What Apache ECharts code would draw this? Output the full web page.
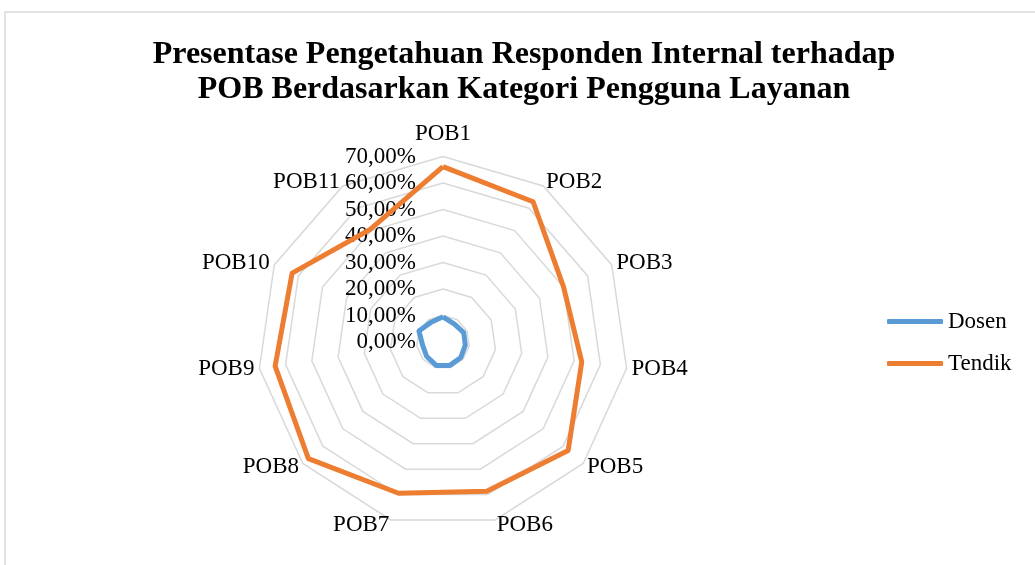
<!DOCTYPE html>
<html>
<head>
<meta charset="utf-8">
<script src="https://cdn.jsdelivr.net/npm/echarts@6/dist/echarts.min.js"></script>
<style>html,body{margin:0;padding:0;background:#fff;}#c{width:1035px;height:565px;}</style>
</head>
<body>
<div id="c"></div>
<script>
const categories = ['POB1','POB2','POB3','POB4','POB5','POB6','POB7','POB8','POB9','POB10','POB11'];
const dosen  = [9.5, 8.0, 8.6, 8.5, 8.9, 9.2, 9.2, 8.2, 7.8, 10.0, 8.7];
const tendik = [66.2, 62.9, 50.0, 52.9, 62.5, 58.7, 59.5, 67.2, 64.0, 62.6, 50.6];
const axisMin = 0, axisMax = 70, axisStep = 10;

// ECharts places radar indicators counter-clockwise; reorder to run clockwise
const order = [0].concat(categories.map((_, i) => i).slice(1).reverse());
const reorder = arr => order.map(i => arr[i]);

const font = '"Liberation Serif", "Times New Roman", serif';
const chart = echarts.init(document.getElementById('c'));
chart.setOption({
  animation: false,
  backgroundColor: '#fff',
  graphic: [{
    type: 'rect', shape: { x: 5, y: 12, width: 1200, height: 800 },
    style: { fill: 'none', stroke: '#d9d9d9', lineWidth: 1.5 }, silent: true
  }],
  title: {
    text: 'Presentase Pengetahuan Responden Internal terhadap\nPOB Berdasarkan Kategori Pengguna Layanan',
    left: 524, top: 37, textAlign: 'center', padding: 0,
    textStyle: { fontFamily: font, fontWeight: 'bold', fontSize: 32, lineHeight: 35, color: '#000' }
  },
  legend: {
    orient: 'vertical', left: 887, top: 310, padding: 0, itemWidth: 56, itemHeight: 5, itemGap: 19,
    icon: 'roundRect',
    textStyle: { fontFamily: font, fontSize: 23, color: '#000' },
    data: ['Dosen', 'Tendik']
  },
  radar: {
    center: [443, 342], radius: 185.5, startAngle: 90, shape: 'polygon',
    splitNumber: (axisMax - axisMin) / axisStep,
    indicator: order.map((i, k) => (k === 0
      ? { name: categories[i], min: axisMin, max: axisMax }
      : { name: categories[i], min: axisMin, max: axisMax, axisLabel: { show: false } })),
    axisName: {
      color: '#000', fontFamily: font, fontSize: 23,
      formatter: name => name === categories[0] ? '{top|' + name + '}' : name,
      rich: { top: { color: '#000', fontFamily: font, fontSize: 23, padding: [0, 0, -10, 0] } }
    },
    nameGap: 5,
    axisLine: { show: false },
    axisTick: { show: false },
    axisLabel: {
      show: true, margin: 27, color: '#000', fontFamily: font, fontSize: 23,
      formatter: v => v.toFixed(2).replace('.', ',') + '%'
    },
    splitLine: { lineStyle: { color: '#d9d9d9', width: 1.5 } },
    splitArea: { show: false }
  },
  series: [{
    type: 'radar', symbol: 'none',
    data: [
      { name: 'Dosen', value: reorder(dosen), lineStyle: { color: '#5B9BD5', width: 5, join: 'round' }, itemStyle: { color: '#5B9BD5' } },
      { name: 'Tendik', value: reorder(tendik), lineStyle: { color: '#ED7D31', width: 5, join: 'round' }, itemStyle: { color: '#ED7D31' } }
    ]
  }]
});
</script>
</body>
</html>
